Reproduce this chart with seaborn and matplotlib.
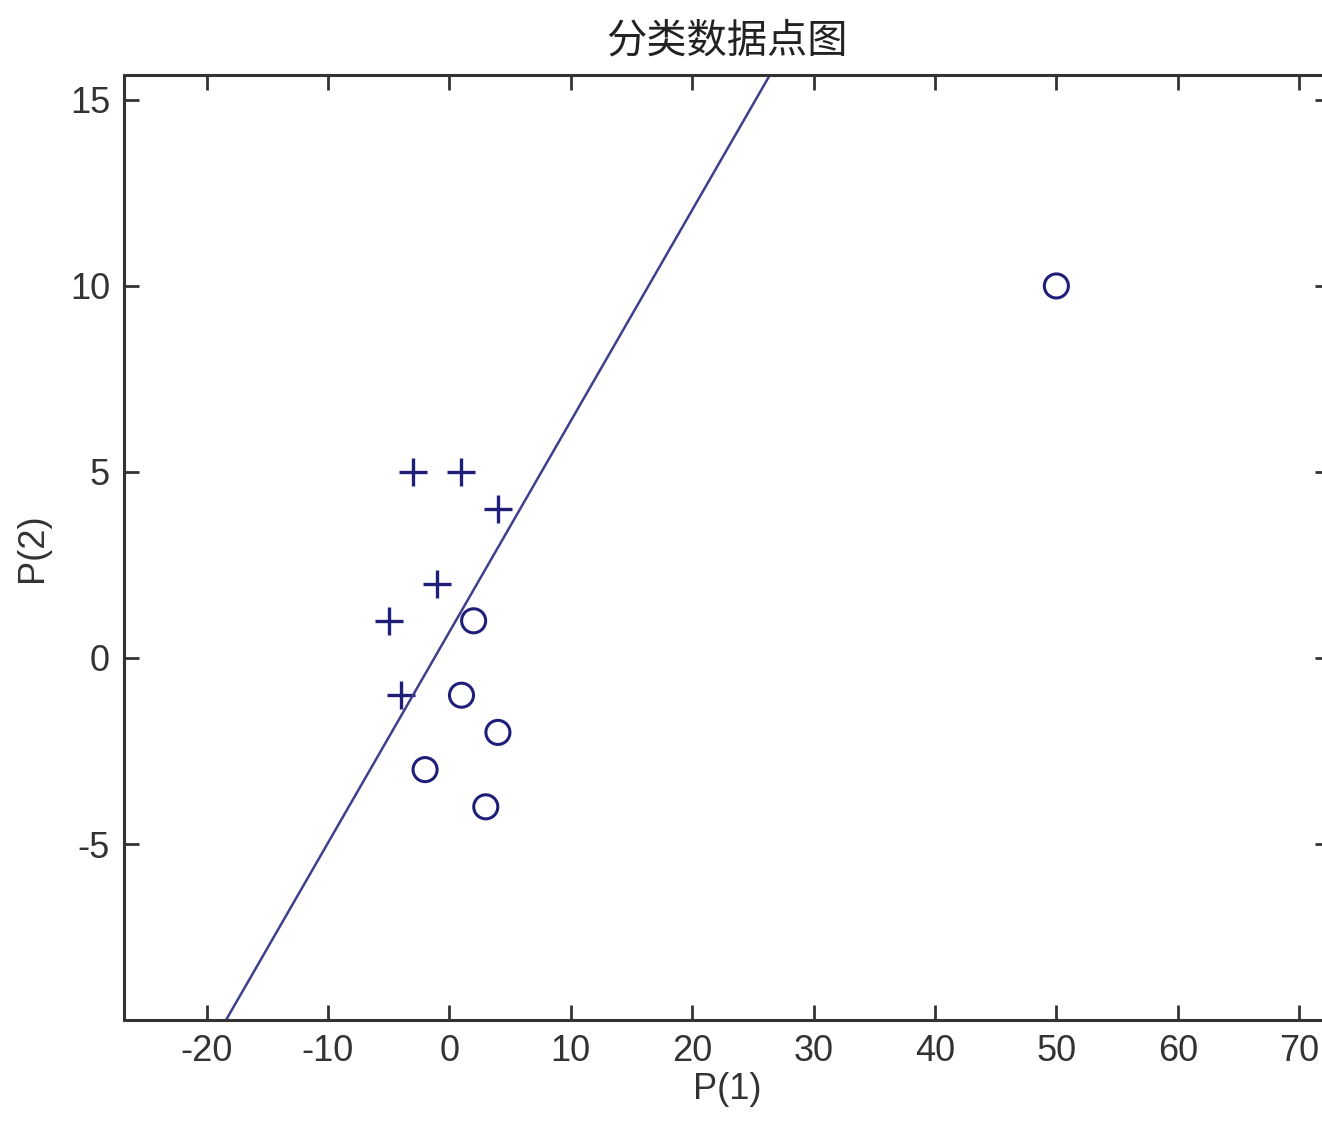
import numpy as np
import pandas as pd
import matplotlib
matplotlib.use("Agg")
import matplotlib.pyplot as plt
import seaborn as sns

# input vectors P (columns) and their class targets T
p1 = [-3, 1, 4, -1, -5, -4, 2, 1, 4, -2, 3, 50]
p2 = [5, 5, 4, 2, 1, -1, 1, -1, -2, -3, -4, 10]
targets = [0, 0, 0, 0, 0, 0, 1, 1, 1, 1, 1, 1]

# decision boundary  W*p + b = 0
W = [-0.567, 1.0]
b = -0.70

x_lim = (-26.8, 72.54)
y_lim = (-9.73, 15.67)
x_ticks = [-20, -10, 0, 10, 20, 30, 40, 50, 60, 70]
y_ticks = [-5, 0, 5, 10, 15]

sns.set_style("ticks")
plt.rcParams['font.family'] = ['Liberation Sans', 'Noto Sans CJK SC', 'DejaVu Sans']
plt.rcParams['axes.unicode_minus'] = False

df = pd.DataFrame({'P1': p1, 'P2': p2, 'T': targets})
mark_col = '#1f1f7a'
line_col = '#3f3f8e'

fig = plt.figure(figsize=(13.22, 11.26), dpi=100)
ax = fig.add_axes([124 / 1322, 106 / 1126, 1206 / 1322, 945 / 1126])

sns.scatterplot(data=df[df['T'] == 0], x='P1', y='P2', marker='+', s=380,
                color=mark_col, linewidth=2.4, ax=ax, legend=False)
sns.scatterplot(data=df[df['T'] == 1], x='P1', y='P2', marker='o', s=300,
                facecolor='none', edgecolor=mark_col, linewidth=2.2, ax=ax, legend=False)

lx = np.array(x_lim)
ly = -(W[0] * lx + b) / W[1]
sns.lineplot(x=lx, y=ly, color=line_col, linewidth=1.8, ax=ax)

ax.set_xlim(*x_lim)
ax.set_ylim(*y_lim)
ax.set_xticks(x_ticks)
ax.set_yticks(y_ticks)
ax.tick_params(direction='in', length=11, width=2, colors='#333333',
               labelcolor='#333333', labelsize=26, pad=10,
               top=True, right=True)
for s in ax.spines.values():
    s.set_linewidth(2.2)
    s.set_color('#333333')

ax.set_xlabel('P(1)', fontsize=26, color='#333333', labelpad=2)
ax.set_ylabel('P(2)', fontsize=26, color='#333333', labelpad=14)
ax.set_title('分类数据点图', fontsize=29, color='#222222', pad=16,
             family=['Noto Sans CJK SC', 'DejaVu Sans'])

fig.savefig('out.png', dpi=100)
